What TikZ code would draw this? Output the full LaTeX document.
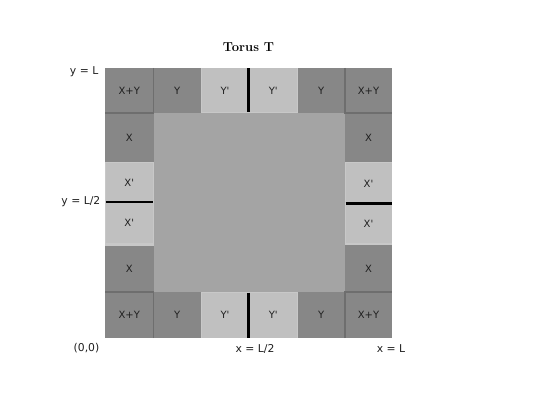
\documentclass[tikz,border=0pt]{standalone}
\usepackage{fontspec}
\newfontfamily\dv{DejaVu Sans}
\definecolor{darkcell}{HTML}{878787}
\definecolor{lightcell}{HTML}{C0C0C0}
\definecolor{midcell}{HTML}{A4A4A4}
\definecolor{edgecol}{HTML}{6E6E6E}
\definecolor{rimcol}{HTML}{C8C8C8}
\begin{document}
\begin{tikzpicture}[x=1pt,y=-1pt,
  cellbox/.style={inner sep=0pt, outer sep=0pt, font=\dv\fontsize{10}{12}\selectfont, text=black!88},
  dk/.style={cellbox, fill=darkcell},
  lt/.style={cellbox, fill=lightcell},
  axislabel/.style={inner sep=0pt, font=\dv\fontsize{10.8}{13}\selectfont, text=black!88},
  cutline/.style={line width=2.4pt, black},
  cornerline/.style={line width=1.6pt, edgecol}
]
\useasboundingbox (0,0) rectangle (537,403);
% background rim
\fill[rimcol] (105,68) rectangle (392,338);
% inner region
\node[cellbox, fill=midcell, minimum width=191.5pt, minimum height=179pt] (inner) at (249.25,202.5) {};
% top row
\node[dk, minimum width=48.5pt, minimum height=45pt] (tXY1) at (129.25,90.5) {X+Y};
\node[dk, minimum width=47.5pt, minimum height=45pt] (tY1) at (177.25,90.5) {Y};
\node[lt, minimum width=47pt, minimum height=44pt] (tYp1) at (225,90.5) {Y'};
\node[lt, minimum width=47.5pt, minimum height=44pt] (tYp2) at (273.25,90.5) {Y'};
\node[dk, minimum width=47.5pt, minimum height=45pt] (tY2) at (321.25,90.5) {Y};
\node[dk, minimum width=47pt, minimum height=45pt] (tXY2) at (368.5,90.5) {X+Y};
% bottom row
\node[dk, minimum width=48.5pt, minimum height=46pt] (bXY1) at (129.25,315) {X+Y};
\node[dk, minimum width=47.5pt, minimum height=46pt] (bY1) at (177.25,315) {Y};
\node[lt, minimum width=47pt, minimum height=45pt] (bYp1) at (225,315) {Y'};
\node[lt, minimum width=47.5pt, minimum height=45pt] (bYp2) at (273.25,315) {Y'};
\node[dk, minimum width=47.5pt, minimum height=46pt] (bY2) at (321.25,315) {Y};
\node[dk, minimum width=47pt, minimum height=46pt] (bXY2) at (368.5,315) {X+Y};
% left column
\node[dk, minimum width=48.5pt, minimum height=49pt] (lX1) at (129.25,137.5) {X};
\node[lt, minimum width=47pt, minimum height=39pt] (lXp1) at (129.25,182.5) {X'};
\node[lt, minimum width=47pt, minimum height=40pt] (lXp2) at (129.25,222.5) {X'};
\node[dk, minimum width=48.5pt, minimum height=46.5pt] (lX2) at (129.25,268.75) {X};
% right column
\node[dk, minimum width=47pt, minimum height=49.5pt] (rX1) at (368.5,137.75) {X};
\node[lt, minimum width=46pt, minimum height=40pt] (rXp1) at (368.5,183.5) {X'};
\node[lt, minimum width=46pt, minimum height=38pt] (rXp2) at (368.5,223.5) {X'};
\node[dk, minimum width=47pt, minimum height=47pt] (rX2) at (368.5,268.5) {X};
% corner outlines
\draw[cornerline] (tXY1.north east) -- (tXY1.south east) -- (tXY1.south west);
\draw[cornerline] (tXY2.north west) -- (tXY2.south west) -- (tXY2.south east);
\draw[cornerline] (bXY1.south east) -- (bXY1.north east) -- (bXY1.north west);
\draw[cornerline] (bXY2.south west) -- (bXY2.north west) -- (bXY2.north east);
% cut lines
\draw[cutline] (tYp1.north east) -- (tYp1.south east);
\draw[cutline] (bYp1.north east) -- (bYp1.south east);
\draw[cutline] (lXp1.south west) -- (lXp1.south east);
\draw[cutline] (rXp1.south west) -- (rXp1.south east);
% title and labels
\node[inner sep=0pt, font=\fontsize{13}{15}\selectfont\bfseries] (title) at (248.5,47) {Torus T};
\node[axislabel, anchor=east] (yL) at (98.5,71.5) {y = L};
\node[axislabel, anchor=east] (yL2) at (100.5,201.5) {y = L/2};
\node[axislabel] (origin) at (86.5,348.5) {(0,0)};
\node[axislabel] (xL2) at (255,348.5) {x = L/2};
\node[axislabel] (xL) at (391,348.5) {x = L};
\end{tikzpicture}
\end{document}
